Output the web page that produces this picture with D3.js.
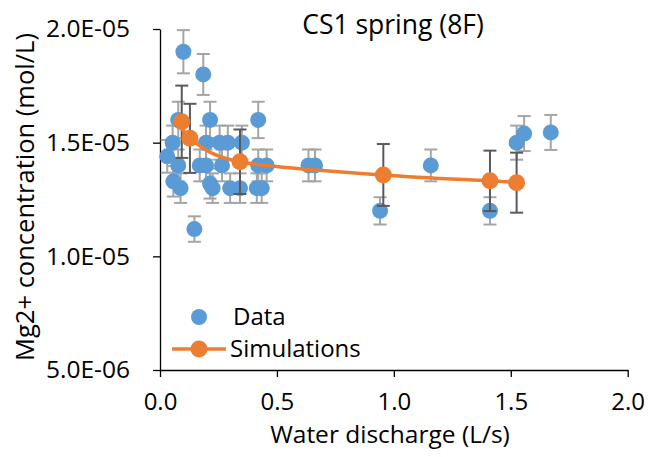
<!DOCTYPE html>
<html>
<head>
<meta charset="utf-8">
<script src="https://cdn.jsdelivr.net/npm/d3@7"></script>
<style>
  body { margin: 0; background: #fff; }
  text { font-family: "Open Sans", sans-serif; fill: #000; }
</style>
</head>
<body>
<div id="chart"></div>
<script>
// measured data (mol/L) with 5% error bars
var dataX = [0.031, 0.054, 0.057, 0.078, 0.078, 0.088, 0.100, 0.147, 0.170, 0.185,
  0.197, 0.197, 0.214, 0.214, 0.225, 0.255, 0.265, 0.290, 0.300, 0.350,
  0.342, 0.420, 0.420, 0.456, 0.414, 0.435, 0.635, 0.663, 0.941, 1.158,
  1.411, 1.525, 1.557, 1.671];
var dataY = [1.44e-5, 1.50e-5, 1.33e-5, 1.60e-5, 1.40e-5, 1.30e-5, 1.90e-5, 1.12e-5, 1.40e-5, 1.80e-5,
  1.50e-5, 1.40e-5, 1.60e-5, 1.32e-5, 1.30e-5, 1.50e-5, 1.40e-5, 1.50e-5, 1.30e-5, 1.50e-5,
  1.30e-5, 1.60e-5, 1.40e-5, 1.40e-5, 1.30e-5, 1.30e-5, 1.40e-5, 1.40e-5, 1.20e-5, 1.40e-5,
  1.20e-5, 1.50e-5, 1.54e-5, 1.545e-5];
var dataErr = [0.072e-5, 0.075e-5, 0.067e-5, 0.080e-5, 0.070e-5, 0.065e-5, 0.095e-5, 0.056e-5, 0.070e-5, 0.090e-5,
  0.075e-5, 0.070e-5, 0.080e-5, 0.066e-5, 0.065e-5, 0.075e-5, 0.070e-5, 0.075e-5, 0.065e-5, 0.075e-5,
  0.065e-5, 0.080e-5, 0.070e-5, 0.070e-5, 0.065e-5, 0.065e-5, 0.070e-5, 0.070e-5, 0.060e-5, 0.070e-5,
  0.060e-5, 0.075e-5, 0.077e-5, 0.077e-5];

// simulations with 10% error bars
var simX = [0.093, 0.128, 0.342, 0.955, 1.411, 1.525];
var simY = [1.592e-5, 1.519e-5, 1.416e-5, 1.358e-5, 1.332e-5, 1.324e-5];
var simErr = [0.159e-5, 0.152e-5, 0.142e-5, 0.136e-5, 0.133e-5, 0.132e-5];

var xTicks = [0, 0.5, 1.0, 1.5, 2.0];
var yTicks = [5e-6, 1e-5, 1.5e-5, 2e-5];

var width = 651,
  height = 457;

var svg = d3.select("#chart").append("svg")
  .attr("width", width)
  .attr("height", height);

var x = d3.scaleLinear().domain([0, 2]).range([160, 627.7]);
var y = d3.scaleLinear().domain([5e-6, 2e-5]).range([370, 29]);

function sci(v) {
  var s = d3.format(".1e")(v).split("e");
  var exp = +s[1];
  var sign = exp < 0 ? "-" : "+";
  exp = Math.abs(exp);
  return s[0] + "E" + sign + (exp < 10 ? "0" : "") + exp;
}

// axes
var xAxis = svg.append("g")
  .attr("transform", "translate(0,370)")
  .call(d3.axisBottom(x).tickValues(xTicks).tickSize(7).tickSizeOuter(0).tickFormat(d3.format(".1f")));
xAxis.selectAll("text").attr("dy", null).attr("y", 40).attr("font-size", 24);

var yAxis = svg.append("g")
  .attr("transform", "translate(160,0)")
  .call(d3.axisLeft(y).tickValues(yTicks).tickSize(7).tickSizeOuter(0).tickPadding(23).tickFormat(sci));
yAxis.selectAll("text").attr("font-size", 24.5);

svg.selectAll(".domain, .tick line").attr("stroke", "#000").attr("stroke-width", 1.3);
svg.selectAll(".tick text").attr("font-family", "Open Sans, sans-serif").attr("fill", "#000");

function errBars(sel, xs, ys, es, color, cls) {
  var g = sel.append("g").attr("class", cls)
    .attr("stroke", color).attr("stroke-width", 2).attr("fill", "none");
  var idx = d3.range(xs.length);
  g.selectAll(".v").data(idx).enter().append("line")
    .attr("x1", function(i) { return x(xs[i]); })
    .attr("x2", function(i) { return x(xs[i]); })
    .attr("y1", function(i) { return y(ys[i] - es[i]); })
    .attr("y2", function(i) { return y(ys[i] + es[i]); });
  [-1, 1].forEach(function(s) {
    g.selectAll(".c" + s).data(idx).enter().append("line")
      .attr("x1", function(i) { return x(xs[i]) - 6.5; })
      .attr("x2", function(i) { return x(xs[i]) + 6.5; })
      .attr("y1", function(i) { return y(ys[i] + s * es[i]); })
      .attr("y2", function(i) { return y(ys[i] + s * es[i]); });
  });
}

// data series
errBars(svg, dataX, dataY, dataErr, "#A5A5A5", "data-err");
svg.append("g").selectAll("circle")
  .data(d3.range(dataX.length))
  .enter().append("circle")
  .attr("cx", function(i) { return x(dataX[i]); })
  .attr("cy", function(i) { return y(dataY[i]); })
  .attr("r", 8)
  .attr("fill", "#5B9BD5");

// simulation series
errBars(svg, simX, simY, simErr, "#595959", "sim-err");
var line = d3.line()
  .x(function(i) { return x(simX[i]); })
  .y(function(i) { return y(simY[i]); })
  .curve(d3.curveCatmullRom.alpha(0));
svg.append("path")
  .datum(d3.range(simX.length))
  .attr("d", line)
  .attr("fill", "none")
  .attr("stroke", "#ED7D31")
  .attr("stroke-width", 3.5);
svg.append("g").selectAll("circle")
  .data(d3.range(simX.length))
  .enter().append("circle")
  .attr("cx", function(i) { return x(simX[i]); })
  .attr("cy", function(i) { return y(simY[i]); })
  .attr("r", 8.5)
  .attr("fill", "#ED7D31");

// titles
svg.append("text")
  .attr("x", 393).attr("y", 34)
  .attr("text-anchor", "middle")
  .attr("font-size", 26.5)
  .text("CS1 spring (8F)");

svg.append("text")
  .attr("x", 390).attr("y", 443)
  .attr("text-anchor", "middle")
  .attr("font-size", 24.5)
  .text("Water discharge (L/s)");

svg.append("text")
  .attr("transform", "translate(34,197) rotate(-90)")
  .attr("text-anchor", "middle")
  .attr("font-size", 25.5)
  .text("Mg2+ concentration (mol/L)");

// legend
var legend = svg.append("g");
legend.append("circle").attr("cx", 199).attr("cy", 317).attr("r", 8).attr("fill", "#5B9BD5");
legend.append("text").attr("x", 233).attr("y", 317).attr("dy", "0.35em").attr("font-size", 24).text("Data");
legend.append("line").attr("x1", 172).attr("x2", 226).attr("y1", 349).attr("y2", 349)
  .attr("stroke", "#ED7D31").attr("stroke-width", 3.5);
legend.append("circle").attr("cx", 199).attr("cy", 349).attr("r", 8.5).attr("fill", "#ED7D31");
legend.append("text").attr("x", 230).attr("y", 349).attr("dy", "0.35em").attr("font-size", 24).text("Simulations");
</script>
</body>
</html>
